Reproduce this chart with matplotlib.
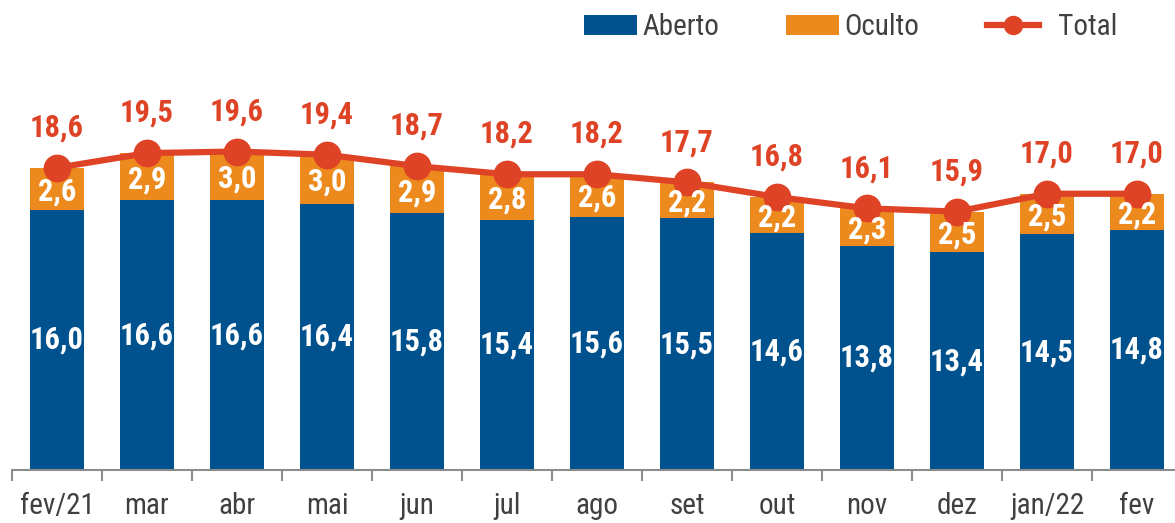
#!/usr/bin/env python

import matplotlib
matplotlib.use("Agg")
import matplotlib.pyplot as plt
from matplotlib.patches import Patch
from matplotlib.lines import Line2D
import numpy as np

# chart values
months = ["fev/21", "mar", "abr", "mai", "jun", "jul", "ago", "set", "out", "nov", "dez", "jan/22", "fev"]
aberto = [16.0, 16.6, 16.6, 16.4, 15.8, 15.4, 15.6, 15.5, 14.6, 13.8, 13.4, 14.5, 14.8]
oculto = [2.6, 2.9, 3.0, 3.0, 2.9, 2.8, 2.6, 2.2, 2.2, 2.3, 2.5, 2.5, 2.2]
total = [18.6, 19.5, 19.6, 19.4, 18.7, 18.2, 18.2, 17.7, 16.8, 16.1, 15.9, 17.0, 17.0]

BLUE = "#00528E"
ORANGE = "#EC8A1D"
RED = "#DF4326"
GREY = "#404040"
FONT = ["Roboto Condensed", "DejaVu Sans"]

plt.rcParams["font.family"] = FONT

def fmt(v):
  return ("%.1f" % v).replace(".", ",")

def main():
  fig = plt.figure(figsize=(11.75, 5.23), dpi=100)
  # right edge runs past the figure, like the cropped original
  ax = fig.add_axes([12 / 1175, 53 / 523, 1170 / 1175, 470 / 523])
  x = np.arange(len(months))

  ax.bar(x, aberto, width=0.59, color=BLUE, zorder=2)
  ax.bar(x, oculto, width=0.59, bottom=aberto, color=ORANGE, zorder=2)
  ax.plot(x, total, color=RED, linewidth=4.5, marker="o", markersize=19, zorder=3)

  for i in range(len(months)):
    ax.text(x[i], aberto[i] / 2, fmt(aberto[i]), ha="center", va="center",
            color="white", fontsize=22, fontweight="bold", zorder=4)
    ax.text(x[i], aberto[i] + oculto[i] / 2 - 0.15, fmt(oculto[i]), ha="center", va="center",
            color="white", fontsize=22, fontweight="bold", zorder=4)
    ax.annotate(fmt(total[i]), (x[i], total[i]), xytext=(0, 29), textcoords="offset points",
                ha="center", va="center", color=RED, fontsize=22, fontweight="bold", zorder=4)

  ax.set_xlim(-0.5, len(months) - 0.5)
  ax.set_ylim(0, 470 / 16.25)

  for s in ["top", "right", "left"]:
    ax.spines[s].set_visible(False)
  ax.spines["bottom"].set_color("#8c8c8c")
  ax.spines["bottom"].set_linewidth(1.5)
  ax.set_yticks([])

  # boundary ticks, labels in the middle of each category
  ax.set_xticks(np.arange(len(months) + 1) - 0.5)
  ax.set_xticklabels([])
  ax.tick_params(axis="x", which="major", length=8, width=1.5, color="#8c8c8c", direction="out")
  ax.set_xticks(x, minor=True)
  ax.set_xticklabels(months, minor=True, fontsize=21, color=GREY)
  ax.tick_params(axis="x", which="minor", length=0, pad=16)

  handles = [Patch(facecolor=BLUE), Patch(facecolor=ORANGE),
             Line2D([0], [0], color=RED, linewidth=4.5, marker="o", markersize=13)]
  fig.legend(handles, ["Aberto", "Oculto", "  Total"], loc="upper left",
             bbox_to_anchor=(584 / 1175, 1 - 13 / 523), ncol=3, frameon=False, fontsize=21,
             labelcolor=GREY, handlelength=1.8, handleheight=0.7, handletextpad=0.2,
             columnspacing=2.3, borderpad=0, borderaxespad=0)

  fig.savefig("out.png", dpi=100)

if __name__ == "__main__":
  main()
